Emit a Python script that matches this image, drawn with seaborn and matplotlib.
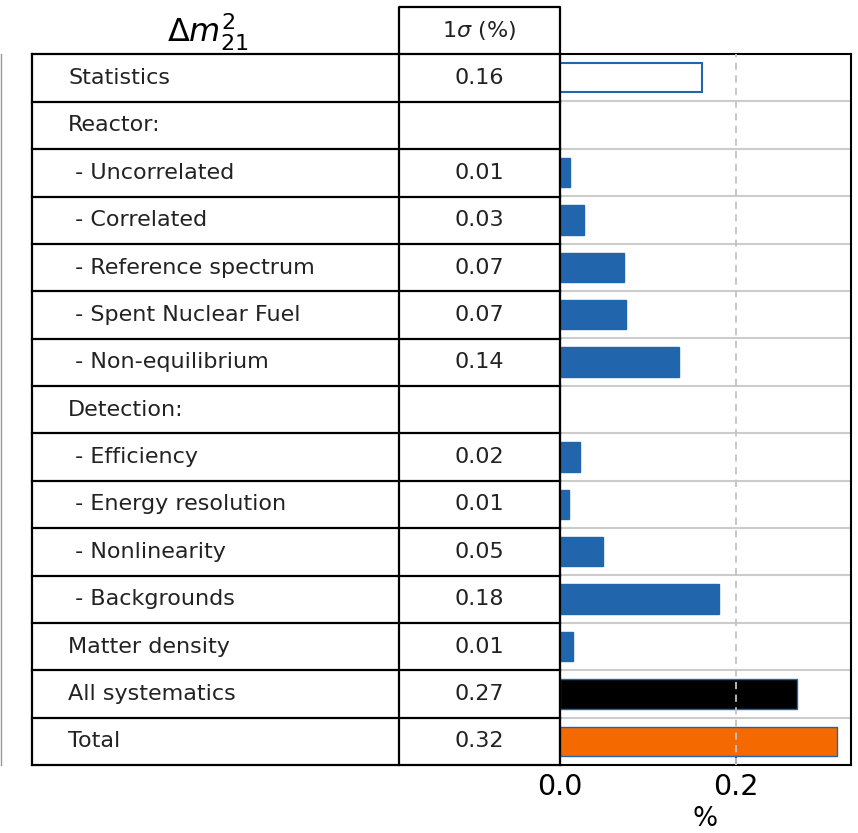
import numpy as np
import pandas as pd
import matplotlib
matplotlib.use("Agg")
import matplotlib.pyplot as plt
from matplotlib.lines import Line2D
import seaborn as sns

# ---------------- data ----------------
labels = ["Statistics", "Reactor:", " - Uncorrelated", " - Correlated",
          " - Reference spectrum", " - Spent Nuclear Fuel", " - Non-equilibrium",
          "Detection:", " - Efficiency", " - Energy resolution", " - Nonlinearity",
          " - Backgrounds", "Matter density", "All systematics", "Total"]
table_values = ["0.16", "", "0.01", "0.03", "0.07", "0.07", "0.14", "",
                "0.02", "0.01", "0.05", "0.18", "0.01", "0.27", "0.32"]
bar_values = [0.162, np.nan, 0.011, 0.027, 0.073, 0.075, 0.135, np.nan,
              0.023, 0.010, 0.049, 0.181, 0.015, 0.270, 0.315]
bar_kind = ["stat", "", "sys", "sys", "sys", "sys", "sys", "",
            "sys", "sys", "sys", "sys", "sys", "allsys", "total"]
title = r"$\Delta m^2_{21}$"
value_header = r"$1\sigma$ (%)"
xticks = [0.0, 0.2]

BLUE = "#2166ac"
face = {"stat": "white", "sys": BLUE, "allsys": "black", "total": "#f56a00"}

df = pd.DataFrame({"label": labels, "value": bar_values})

W, H = 858, 833
fig = plt.figure(figsize=(W / 100, H / 100), dpi=100)


def fx(px):
    return px / W


def fy(py):
    return 1 - py / H


# ---------------- bar axes ----------------
ax = fig.add_axes([fx(560), fy(765), (851 - 560) / W, (765 - 54) / H])
sns.barplot(data=df, x="value", y="label", order=labels, orient="h",
            color=BLUE, saturation=1, width=0.62, errorbar=None, ax=ax)
for p in ax.patches:
    idx = int(round(p.get_y() + p.get_height() / 2))
    kind = bar_kind[idx]
    p.set_facecolor(face[kind])
    p.set_edgecolor(BLUE)
    p.set_linewidth(1.5 if kind == "stat" else 1.0)
    p.set_zorder(3)

ax.set_xlim(0, 0.331)
ax.set_ylim(len(labels) - 0.5, -0.5)
for k in range(len(labels) - 1):
    ax.axhline(k + 0.5, color="#cccccc", lw=1.5, zorder=1)
ax.axvline(0.2, color="#c4c4c4", lw=1.3, ls=(0, (4, 3)), zorder=4)
ax.set_yticks([])
ax.set_ylabel("")
ax.set_xticks(xticks)
ax.set_xticklabels([f"{t:.1f}" for t in xticks])
ax.tick_params(axis="x", direction="in", length=7, width=1.2, labelsize=20.5, pad=6)
ax.set_xlabel("%", fontsize=19, labelpad=3)
for s in ax.spines.values():
    s.set_color("black")
    s.set_linewidth(1.5)

# ---------------- table axes ----------------
tab = fig.add_axes([fx(32), fy(765), (560 - 32) / W, (765 - 7) / H])
tab.set_xlim(32, 560)
tab.set_ylim(len(labels) - 0.5, -1.5)
tab.axis("off")
lkw = dict(color="black", lw=1.6, clip_on=False, solid_capstyle="projecting")
n = len(labels)
for k in range(n + 1):
    tab.plot([32, 559.5], [k - 0.5, k - 0.5], **lkw)
for xv in (32, 399, 559.5):
    tab.plot([xv, xv], [-0.5, n - 0.5], **lkw)
# header cell
tab.plot([399, 399, 559.5, 559.5], [-0.5, -1.5, -1.5, -0.5], **lkw)

for i, (lab, val) in enumerate(zip(labels, table_values)):
    tab.text(68, i, lab, ha="left", va="center", fontsize=16, color="#222222")
    tab.text(479, i, val, ha="center", va="center", fontsize=16, color="#222222")
tab.text(479, -1, value_header, ha="center", va="center", fontsize=16, color="#222222")
tab.text(208, -0.96, title, ha="center", va="center", fontsize=23, color="black")

# faint edge line of a neighbouring panel
fig.add_artist(Line2D([fx(1), fx(1)], [fy(54), fy(765)], color="#999999", lw=1,
                      transform=fig.transFigure))

fig.savefig("out.png", dpi=100)
